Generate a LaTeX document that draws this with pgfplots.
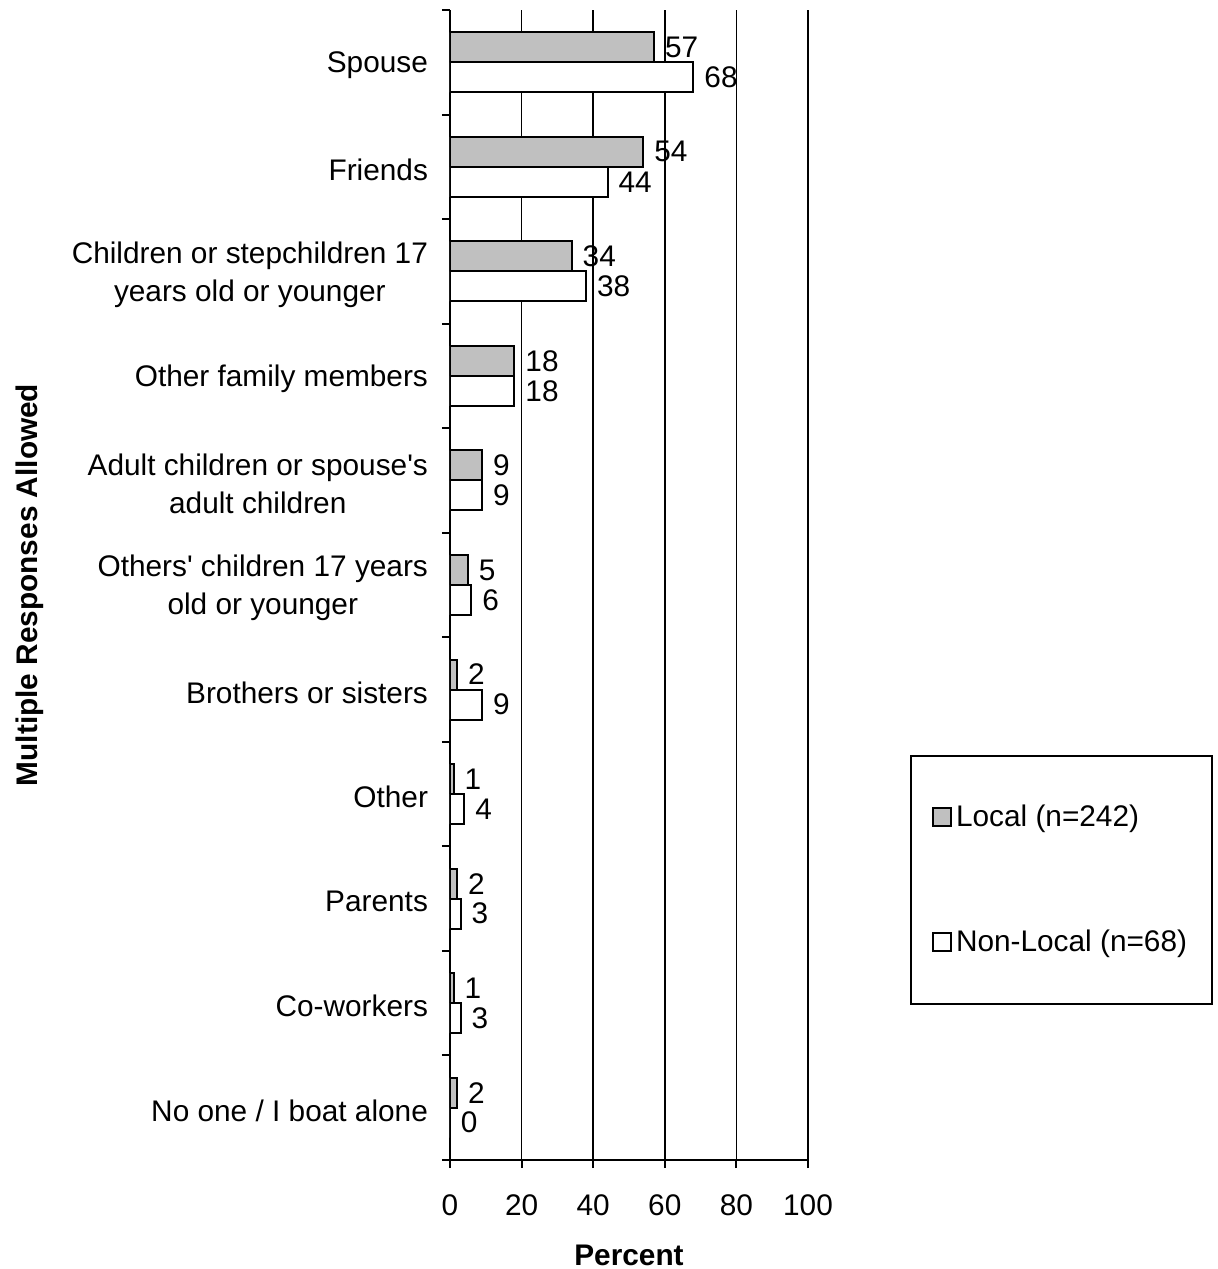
\documentclass[border=0pt]{standalone}
\usepackage{pgfplots}
\pgfplotsset{compat=1.18}
\usepackage{fontspec}
\setmainfont{Liberation Sans}
\definecolor{barGray}{HTML}{C0C0C0}
\newcommand{\lf}{\fontsize{14.9}{19}\selectfont}
\newcommand{\q}{\textquotesingle}
\begin{document}
\begin{tikzpicture}
\useasboundingbox (0,0) rectangle (608.5pt,634.5pt);
\begin{axis}[
  at={(225pt,54.5pt)}, anchor=south west,
  scale only axis, width=179pt, height=575pt,
  /pgf/number format/assume math mode=true,
  xbar, bar width=15pt,
  xmin=0, xmax=100, ymin=-0.5, ymax=10.5,
  axis lines=left,
  axis line style={-, line width=1pt, black},
  xtick={0,20,40,60,80,100},
  xmajorgrids, grid style={black, line width=0.75pt},
  ytick={0,...,10},
  yticklabels={No one / I boat alone, Co-workers, Parents, Other, Brothers or sisters, {Others\q{} children 17 years\\old or younger}, {Adult children or spouse\q{}s\\adult children}, Other family members, {Children or stepchildren 17\\years old or younger}, Friends, Spouse},
  minor ytick={-0.5,0.5,...,10.5},
  tick align=outside,
  major tick length=4pt, minor tick length=4pt,
  major y tick style={draw=none},
  minor y tick style={draw=black, line width=1pt},
  major x tick style={draw=black, line width=1pt},
  tick label style={font=\lf},
  yticklabel style={align=center, xshift=-3.5pt, yshift=-1.5pt},
  xticklabel style={yshift=-10pt},
  xlabel={\textbf{Percent}},
  ylabel={\textbf{Multiple Responses Allowed}},
  label style={font=\lf},
  xlabel style={at={(axis description cs:0.5,-0.0826)}, anchor=center},
  ylabel style={at={(axis description cs:-1.173,0.5)}, anchor=center},
  point meta=x,
  nodes near coords,
  nodes near coords style={font=\lf, inner sep=0pt, xshift=5pt, anchor=west, black},
  legend style={at={(axis description cs:1.285,0.3526)}, anchor=north west,
    draw=black, line width=1pt, font=\lf, inner xsep=10.5pt, inner ysep=22.5pt,
    row sep=46.5pt, legend cell align=left},
  legend image code/.code={\draw[#1, line width=1pt] (0pt,-4.5pt) rectangle (9pt,4.5pt);},
]
\addplot[draw=black, line width=1pt, fill=barGray, bar shift=7.5pt] coordinates {
  (2,0) (1,1) (2,2) (1,3) (2,4) (5,5) (9,6) (18,7) (34,8) (54,9) (57,10)};
\addlegendentry{Local (n=242)}
\addplot[draw=black, line width=1pt, fill=white, bar shift=-7.5pt] coordinates {
  (0,0) (3,1) (3,2) (4,3) (9,4) (6,5) (9,6) (18,7) (38,8) (44,9) (68,10)};
\addlegendentry{Non-Local (n=68)}
\end{axis}
\end{tikzpicture}
\end{document}
